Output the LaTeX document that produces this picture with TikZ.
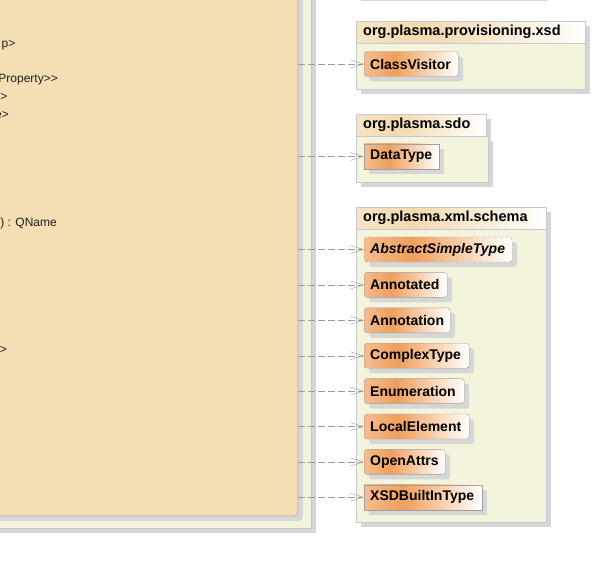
\documentclass[tikz,border=0pt]{standalone}
\usepackage{fontspec}
\setmainfont{Liberation Sans}
\usetikzlibrary{arrows.meta,shadows,positioning}
\lefthyphenmin=64

\definecolor{pkgfill}{HTML}{F4F4DC}
\definecolor{pkgline}{HTML}{C4C9D8}
\definecolor{genfill}{HTML}{F4DEB4}
\definecolor{clsline}{HTML}{A0A0A0}
\definecolor{shadowgray}{HTML}{D6D6D6}
\definecolor{depline}{HTML}{9A9A9A}
\definecolor{tabA}{HTML}{F7E4C4}
\definecolor{tabB}{HTML}{F3D9AE}
\definecolor{clsA}{HTML}{F5BC92}
\definecolor{clsB}{HTML}{EF9F5C}
\definecolor{txt}{HTML}{1E1E1E}

\pgfdeclarehorizontalshading{tabshade}{100bp}{color(0bp)=(tabA); color(25bp)=(tabA); color(40bp)=(tabB); color(75bp)=(white); color(100bp)=(white)}
\pgfdeclarehorizontalshading{clsshade}{100bp}{color(0bp)=(clsA); color(25bp)=(clsA); color(41bp)=(clsB); color(75bp)=(white); color(100bp)=(white)}

\tikzset{
  cast/.style={drop shadow={shadow xshift=5pt,shadow yshift=-5pt,fill=shadowgray,opacity=1}},
  pkgtab/.style={cast,draw=pkgline,shading=tabshade,anchor=north west,
    minimum height=22pt,inner xsep=7pt,inner ysep=0pt,align=left,
    font=\fontsize{14.5}{16}\selectfont\bfseries},
  pkgbody/.style={cast,draw=pkgline,fill=pkgfill},
  cls/.style={cast,draw=clsline,shading=clsshade,rounded corners=3pt,anchor=west,
    minimum height=25pt,inner xsep=6pt,inner ysep=0pt,align=left,
    font=\fontsize{14}{16}\selectfont\bfseries},
  sqcls/.style={cls,sharp corners},
  abscls/.style={cls,dashed,font=\fontsize{14}{16}\selectfont\bfseries\itshape},
  genbox/.style={cast,draw=clsline,fill=genfill,rounded corners=4pt},
  dep/.style={draw=depline,dash pattern=on 7pt off 3pt,
    -{Straight Barb[length=13pt,width=8pt]}}
}

\begin{document}
\begin{tikzpicture}[x=1pt,y=-1pt]
    \useasboundingbox (0,0) rectangle (592,572);
    \clip (0,0) rectangle (592,572);

    % left package with the source class
    \draw[pkgbody] (-60,-60) rectangle (311,528);
    \node[genbox,minimum width=520pt,minimum height=700pt,anchor=south east] (gen) at (298,516) {};
    \begin{scope}[every node/.style={font=\fontsize{12}{14}\selectfont,text=txt,anchor=base east,inner sep=0pt}]
      \node (g1) at (15.5,48) {p>};
      \node (g2) at (58,83) {Property>{}>};
      \node (g3) at (7.5,101) {>};
      \node (g4) at (9,119) {e>};
      \node (g5) at (57,227) {) : QName};
      \node (g6) at (7,353) {>};
    \end{scope}

    % package above, cut off
    \fill[shadowgray] (361,-3) rectangle (547,1);

    % org.plasma.provisioning.xsd
    \node[pkgtab,text width=215pt] (pxsd) at (356,21) {org.plasma.provisioning.xsd};
    \draw[pkgbody] (pxsd.south west) rectangle (585,89);
    \node[cls,text width=82pt] (cv) at (364,64) {ClassVisitor};

    % org.plasma.sdo
    \node[pkgtab,text width=116pt] (psdo) at (356,114) {org.plasma.sdo};
    \draw[pkgbody] (psdo.south west) rectangle (488,182);
    \node[sqcls,text width=63pt] (dt) at (364,156.5) {DataType};

    % org.plasma.xml.schema
    \node[pkgtab,text width=176pt] (pschema) at (356,207) {org.plasma.xml.schema};
    \draw[pkgbody] (pschema.south west) rectangle (546,522);
    \node[abscls,text width=136pt] (ast) at (364,249.5) {AbstractSimpleType};
    \node[cls,text width=71pt,below=10pt of ast.south west,anchor=north west] (ant) {Annotated};
    \node[cls,text width=74pt,below=10pt of ant.south west,anchor=north west] (ann) {Annotation};
    \node[cls,text width=93pt,below=10pt of ann.south west,anchor=north west] (cpx) {ComplexType};
    \node[cls,text width=88pt,below=10pt of cpx.south west,anchor=north west] (enm) {Enumeration};
    \node[cls,text width=93pt,below=10pt of enm.south west,anchor=north west] (loc) {LocalElement};
    \node[cls,text width=69pt,below=10pt of loc.south west,anchor=north west] (opn) {OpenAttrs};
    \node[sqcls,text width=106pt,below=10pt of opn.south west,anchor=north west] (xbt) {XSDBuiltInType};

    % dependencies
    \foreach \n in {cv,dt,ast,ant,ann,cpx,enm,loc,opn,xbt}
      \draw[dep] (gen.east |- \n.west) -- (\n.west);
\end{tikzpicture}
\end{document}
